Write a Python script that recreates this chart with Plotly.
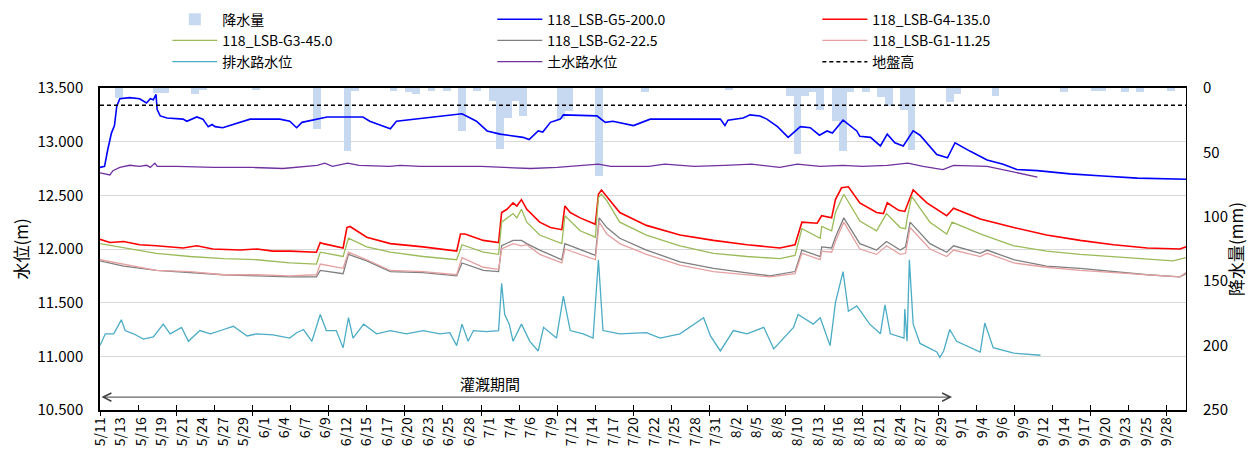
import plotly.graph_objects as go

FONT = "Noto Sans CJK JP"

# ---- x axis: days since 5/11 ----
x_labels = ["5/11", "5/13", "5/16", "5/19", "5/21", "5/24", "5/27", "5/29",
            "6/1", "6/4", "6/7", "6/9", "6/12", "6/15", "6/17", "6/20", "6/23", "6/25", "6/28",
            "7/1", "7/4", "7/6", "7/9", "7/12", "7/14", "7/17", "7/20", "7/22", "7/25", "7/28", "7/31",
            "8/2", "8/5", "8/8", "8/10", "8/13", "8/16", "8/18", "8/21", "8/24", "8/27", "8/29",
            "9/1", "9/4", "9/6", "9/9", "9/12", "9/14", "9/17", "9/20", "9/23", "9/25", "9/28"]
x_label_span = 140          # 5/11 -> 9/28 in days
x_max = 142.5

# ---- rainfall (mm/day) ----
rain_day = [2, 7, 8, 12, 13, 20, 28, 32, 33, 38, 40, 41, 43, 45, 47, 49, 51, 52, 53, 54,
            55, 60, 61, 65, 71, 82, 90, 91, 92, 93, 94, 96, 97, 98, 100, 102, 103, 105, 106, 111,
            112, 117, 126, 130, 131, 134, 136, 140]
rain_mm = [8, 4, 4, 5, 1, 1, 32, 49, 2, 2, 3, 5, 2, 2, 33, 2, 10, 47, 23, 10,
           22, 24, 18, 68, 3, 1, 6, 51, 6, 3, 17, 26, 49, 3, 3, 7, 14, 17, 48, 11,
           5, 6, 3, 2, 2, 3, 3, 2]

# ---- 118_LSB-G5-200.0 ----
g5_day = [0, 0.6, 1.0, 1.5, 1.9, 2.2, 2.6, 3.9, 5.2, 6.1, 6.6, 7.0, 7.35, 7.5, 7.9, 8.8, 10.9, 11.4, 12.7, 13.5,
          14.2, 14.7, 15.1, 16.1, 19.7, 23.6, 24.9, 25.8, 26.5, 28.0, 29.8, 32.4, 34.5, 35.4, 38.1, 38.9,
          43.7, 46.3, 47.5, 49.4, 50.8, 52.5, 55.5, 56.3, 57.5, 58.1, 59.1, 60.4, 60.8, 65.2, 66.3,
          67.3, 70.0, 72.2, 76.1, 81.4, 82.0, 82.4, 84.4, 85.3, 86.6, 87.5, 88.9, 90.3, 91.9, 93.2,
          94.4, 95.4, 96.1, 97.5, 99.3, 99.7, 101.1, 102.4, 103.3, 104.3, 105.4, 106.7, 107.6, 109.8,
          111.2, 112.2, 114.2, 116.4, 118.5, 120.3, 123.0, 127.3, 131.6, 136.1, 142.5]
g5_val = [12.76, 12.77, 12.92, 13.08, 13.15, 13.33, 13.40, 13.41, 13.40, 13.36, 13.40, 13.39, 13.44, 13.30,
          13.24, 13.22, 13.21, 13.19, 13.23, 13.21, 13.14, 13.16, 13.14, 13.13, 13.21, 13.21, 13.19,
          13.13, 13.18, 13.20, 13.23, 13.23, 13.23, 13.19, 13.12, 13.19, 13.23, 13.25, 13.26, 13.19,
          13.10, 13.07, 13.04, 13.02, 13.10, 13.09, 13.18, 13.21, 13.25, 13.24, 13.18, 13.19, 13.15,
          13.21, 13.21, 13.21, 13.15, 13.20, 13.22, 13.25, 13.24, 13.21, 13.14, 13.04, 13.14, 13.13,
          13.06, 13.10, 13.08, 13.20, 13.10, 13.05, 13.04, 12.96, 13.07, 12.99, 12.96, 13.10, 13.06,
          12.88, 12.85, 12.99, 12.91, 12.83, 12.79, 12.74, 12.73, 12.70, 12.68, 12.66, 12.65]

# ---- 118_LSB-G4-135.0 ----
g4_day = [0, 1.3, 3.1, 5.2, 7.4, 10.9, 12.7, 14.8, 18.4, 20.6, 22.7, 24.9, 28.4, 28.9, 29.3, 31.9, 32.4,
          32.8, 35.0, 38.1, 42.4, 46.8, 47.3, 47.9, 50.3, 52.3, 52.7, 53.4, 54.2, 54.7, 55.3, 56.0, 57.7,
          59.1, 60.6, 61.0, 61.7, 63.0, 65.0, 65.4, 65.8, 66.5, 68.2, 71.7, 76.1, 80.5, 84.9, 89.2, 91.2,
          92.1, 94.1, 94.7, 96.0, 96.5, 97.3, 98.2, 99.7, 101.9, 102.8, 103.3, 104.8, 105.6, 105.9, 106.7,
          108.5, 111.1, 112.0, 115.5, 119.9, 124.2, 128.6, 133.0, 137.4, 141.7, 142.5]
g4_val = [12.09, 12.06, 12.07, 12.04, 12.03, 12.01, 12.03, 12.00, 11.99, 12.00, 11.98, 11.98, 11.97, 12.06,
          12.05, 12.01, 12.20, 12.21, 12.11, 12.05, 12.02, 11.98, 12.14, 12.14, 12.08, 12.06, 12.34, 12.37,
          12.43, 12.40, 12.46, 12.37, 12.25, 12.20, 12.18, 12.40, 12.34, 12.29, 12.23, 12.51, 12.55, 12.49,
          12.34, 12.22, 12.13, 12.08, 12.04, 12.01, 12.04, 12.25, 12.24, 12.31, 12.29, 12.46, 12.57, 12.58,
          12.43, 12.34, 12.33, 12.43, 12.36, 12.35, 12.40, 12.55, 12.43, 12.31, 12.38, 12.28, 12.20, 12.13,
          12.08, 12.04, 12.01, 12.00, 12.02]

# ---- 118_LSB-G3-45.0 ----
g3_day = [0, 3.1, 7.4, 11.8, 16.2, 20.6, 24.9, 28.4, 28.9, 31.9, 32.6, 35.0, 38.1, 42.4, 46.8, 47.5, 50.3,
          52.3, 52.7, 54.2, 54.7, 55.3, 56.0, 57.7, 60.6, 61.0, 63.0, 65.0, 65.4, 65.8, 66.5, 68.2, 71.7,
          76.1, 80.5, 84.9, 89.2, 91.2, 92.1, 94.5, 94.7, 96.0, 96.5, 97.6, 99.7, 101.9, 103.2, 105.0,
          105.7, 105.9, 106.5, 108.9, 111.1, 111.8, 115.5, 119.9, 124.2, 128.6, 133.0, 137.4, 140.8, 142.5]
g3_val = [12.05, 12.01, 11.96, 11.93, 11.91, 11.90, 11.87, 11.86, 11.97, 11.93, 12.10, 12.02, 11.97, 11.93,
          11.90, 12.04, 11.97, 11.95, 12.25, 12.33, 12.29, 12.37, 12.25, 12.13, 12.05, 12.31, 12.17, 12.11,
          12.48, 12.51, 12.45, 12.25, 12.13, 12.03, 11.96, 11.93, 11.91, 11.94, 12.19, 12.10, 12.21, 12.17,
          12.34, 12.51, 12.26, 12.17, 12.33, 12.20, 12.19, 12.28, 12.49, 12.25, 12.14, 12.25, 12.14, 12.03,
          11.98, 11.95, 11.93, 11.91, 11.89, 11.92]

# ---- 118_LSB-G2-22.5 / 118_LSB-G1-11.25 (same sampling days) ----
g2_day = [0, 3.1, 7.4, 11.8, 16.2, 20.6, 24.9, 28.4, 28.9, 31.9, 32.6, 35.0, 38.1, 42.4, 46.8, 47.5, 50.3,
          52.3, 52.7, 54.2, 55.3, 56.0, 57.7, 60.6, 61.0, 65.0, 65.5, 66.5, 68.2, 71.7, 76.1, 80.5, 84.9,
          87.9, 91.2, 92.1, 94.5, 94.7, 96.0, 96.5, 97.6, 99.7, 101.9, 103.2, 105.0, 105.7, 106.3, 108.9,
          111.1, 112.0, 115.5, 116.4, 119.9, 124.2, 128.6, 133.0, 137.4, 141.7, 142.5]
g2_val = [11.89, 11.84, 11.80, 11.78, 11.76, 11.75, 11.74, 11.74, 11.80, 11.77, 11.95, 11.89, 11.79, 11.78,
          11.75, 11.87, 11.80, 11.79, 12.03, 12.08, 12.08, 12.05, 11.99, 11.90, 12.05, 11.94, 12.29, 12.20,
          12.10, 11.99, 11.88, 11.82, 11.78, 11.75, 11.79, 11.99, 11.93, 12.02, 12.01, 12.11, 12.29, 12.05,
          11.99, 12.07, 11.99, 12.02, 12.25, 12.05, 11.97, 12.03, 11.96, 11.99, 11.90, 11.84, 11.82, 11.79,
          11.76, 11.74, 11.77]
g1_day = g2_day
g1_val = [11.90, 11.86, 11.80, 11.79, 11.76, 11.76, 11.75, 11.76, 11.86, 11.82, 11.97, 11.90, 11.80, 11.79,
          11.76, 11.92, 11.83, 11.81, 12.00, 12.05, 12.03, 12.04, 11.95, 11.87, 12.00, 11.90, 12.25, 12.14,
          12.05, 11.95, 11.85, 11.79, 11.76, 11.74, 11.77, 11.96, 11.90, 11.98, 11.97, 12.07, 12.25, 12.00,
          11.95, 12.03, 11.95, 11.96, 12.20, 12.00, 11.93, 11.99, 11.93, 11.96, 11.87, 11.83, 11.80, 11.78,
          11.76, 11.74, 11.78]

# ---- 排水路水位 ----
drain_day = [0, 0.7, 1.8, 2.8, 3.3, 4.4, 5.7, 7.0, 8.3, 9.2, 10.7, 11.6, 13.1, 14.5, 16.2, 17.5, 19.3, 20.6,
             22.7, 24.9, 25.8, 26.7, 27.8, 28.9, 29.7, 31.0, 31.9, 32.6, 33.2, 34.6, 36.3, 38.1, 40.2, 42.4,
             44.6, 45.9, 46.8, 47.5, 48.3, 49.0, 50.7, 52.3, 52.7, 53.1, 53.7, 54.2, 55.3, 56.4, 57.5, 58.2,
             59.9, 60.8, 61.7, 63.4, 64.7, 65.4, 66.0, 68.2, 71.7, 73.5, 76.1, 79.2, 80.1, 81.4, 83.1, 84.9,
             87.1, 88.4, 91.0, 91.6, 93.6, 94.5, 95.8, 96.5, 97.5, 98.2, 99.3, 101.0, 102.4, 103.0, 103.7,
             105.5, 105.6, 105.9, 106.2, 106.7, 107.6, 109.8, 110.2, 110.7, 111.5, 112.4, 115.5, 116.1, 117.2,
             119.9, 123.4]
drain_val = [11.10, 11.21, 11.21, 11.34, 11.24, 11.21, 11.16, 11.18, 11.30, 11.21, 11.27, 11.14, 11.24, 11.21,
             11.25, 11.28, 11.19, 11.21, 11.20, 11.17, 11.22, 11.25, 11.14, 11.39, 11.24, 11.24, 11.08, 11.36,
             11.17, 11.30, 11.21, 11.24, 11.21, 11.24, 11.21, 11.22, 11.10, 11.30, 11.14, 11.24, 11.23, 11.24,
             11.68, 11.39, 11.30, 11.14, 11.30, 11.14, 11.05, 11.27, 11.17, 11.56, 11.24, 11.21, 11.17, 11.90,
             11.24, 11.21, 11.22, 11.17, 11.21, 11.36, 11.19, 11.05, 11.24, 11.21, 11.27, 11.07, 11.27, 11.39,
             11.30, 11.36, 11.10, 11.50, 11.79, 11.42, 11.47, 11.30, 11.21, 11.48, 11.21, 11.17, 11.44, 11.14,
             11.90, 11.30, 11.12, 11.04, 10.99, 11.05, 11.25, 11.14, 11.04, 11.31, 11.08, 11.03, 11.01]

# ---- 土水路水位 ----
ditch_day = [0, 1.3, 1.7, 2.6, 3.9, 5.2, 6.1, 6.6, 7.2, 7.5, 8.0, 10, 15, 20, 24, 27, 28.5, 29.5, 30.5, 32.5,
             34, 38, 39.4, 42, 46, 50, 53, 56.5, 60, 65.4, 67, 72, 74.1, 78, 82, 85.5, 89.2, 91.5, 94.5, 97.5,
             100, 103.3, 106.0, 108, 110.6, 112, 116.4, 118.5, 120.3, 123.0]
ditch_val = [12.71, 12.69, 12.73, 12.76, 12.78, 12.77, 12.78, 12.76, 12.80, 12.77, 12.77, 12.77, 12.76, 12.76,
             12.75, 12.77, 12.78, 12.80, 12.77, 12.80, 12.78, 12.77, 12.78, 12.77, 12.77, 12.77, 12.76, 12.75,
             12.76, 12.79, 12.77, 12.77, 12.79, 12.77, 12.78, 12.79, 12.76, 12.79, 12.77, 12.78, 12.77, 12.78,
             12.80, 12.77, 12.74, 12.78, 12.77, 12.74, 12.71, 12.67]

# ---- 地盤高 ----
ground_level = 13.34

# ---- 灌漑期間 (days) ----
irrigation_start = 0
irrigation_end = 111.8

fig = go.Figure()

fig.add_trace(go.Bar(
    x=[d + 0.5 for d in rain_day], y=rain_mm, width=1, name="降水量",
    marker=dict(color="#c6d9f1", line=dict(width=0)),
    xaxis="x", yaxis="y", hoverinfo="skip"))

line_series = [
    ("118_LSB-G5-200.0", g5_day, g5_val, "#0000ff", 1.6),
    ("118_LSB-G4-135.0", g4_day, g4_val, "#ff0000", 1.6),
    ("118_LSB-G3-45.0", g3_day, g3_val, "#9bbb59", 1.3),
    ("118_LSB-G2-22.5", g2_day, g2_val, "#7f7f7f", 1.3),
    ("118_LSB-G1-11.25", g1_day, g1_val, "#e6a0a0", 1.3),
    ("排水路水位", drain_day, drain_val, "#4bacc6", 1.3),
    ("土水路水位", ditch_day, ditch_val, "#7030a0", 1.3),
]
for name, xs, ys, col, w in line_series:
    fig.add_trace(go.Scatter(x=xs, y=ys, mode="lines", name=name,
                             line=dict(color=col, width=w),
                             xaxis="x", yaxis="y2"))

fig.add_trace(go.Scatter(x=[0, x_max], y=[ground_level, ground_level], mode="lines", name="地盤高",
                         line=dict(color="black", width=1.5, dash="4px,3px"),
                         xaxis="x", yaxis="y2"))

# helper (empty) traces so the tick-mark overlay axes are drawn
for ax in ("x3", "x4"):
    fig.add_trace(go.Scatter(x=[None], y=[None], xaxis=ax, yaxis="y2",
                             showlegend=False, hoverinfo="skip"))

tickvals = [i * x_label_span / (len(x_labels) - 1) for i in range(len(x_labels))]

# the page body has an 8px margin, so the figure is sized to fit the 1256x468 window
fig.update_layout(
    width=1240, height=452, autosize=False,
    margin=dict(l=92, r=62, t=80, b=50, autoexpand=False),
    paper_bgcolor="white", plot_bgcolor="white",
    font=dict(family=FONT, size=14, color="black"),
    bargap=0,
    legend=dict(orientation="h", xref="paper", yref="paper",
                x=0.062, y=1.262, xanchor="left", yanchor="top",
                entrywidth=265, entrywidthmode="pixels", itemwidth=45,
                font=dict(family=FONT, size=14), tracegroupgap=0,
                bgcolor="rgba(0,0,0,0)"),
    xaxis=dict(range=[0, x_max], tickmode="array", tickvals=tickvals, ticktext=x_labels,
               tickangle=-90, ticks="", showline=True, linecolor="black", linewidth=1.5,
               mirror=True, showgrid=False, zeroline=False, automargin=False,
               tickfont=dict(family=FONT, size=14), anchor="y"),
    yaxis=dict(range=[250, 0], side="right", tickmode="array", tickvals=[0, 50, 100, 150, 200, 250],
               showgrid=False, zeroline=False, showline=True, linecolor="black", linewidth=1,
               ticks="", tickfont=dict(family=FONT, size=15), anchor="x", automargin=False,
               ticklabelstandoff=13,
               title=dict(text="降水量(mm)", font=dict(family=FONT, size=17), standoff=17)),
    yaxis2=dict(range=[10.5, 13.5], side="left", overlaying="y", tickmode="array",
                tickvals=[10.5, 11.0, 11.5, 12.0, 12.5, 13.0, 13.5], tickformat=".3f",
                showgrid=True, gridcolor="#d9d9d9", gridwidth=1, zeroline=False,
                showline=True, linecolor="black", linewidth=1.5, ticks="",
                tickfont=dict(family=FONT, size=15), anchor="x", automargin=False,
                ticklabelstandoff=12,
                title=dict(text="水位(m)", font=dict(family=FONT, size=17), standoff=12)),
    xaxis3=dict(overlaying="x", range=[0, x_max], anchor="y2", side="bottom",
                tickmode="array", tickvals=list(range(0, 145, 5)), ticks="inside", ticklen=5,
                tickcolor="black", tickwidth=1, showticklabels=False, showline=False,
                showgrid=False, zeroline=False, automargin=False),
    xaxis4=dict(overlaying="x", range=[0, x_max], anchor="y2", side="bottom",
                tickmode="array", tickvals=list(range(0, 145, 10)), ticks="outside", ticklen=5,
                tickcolor="black", tickwidth=1, showticklabels=False, showline=False,
                showgrid=False, zeroline=False, automargin=False),
    annotations=[
        dict(x=irrigation_end, y=10.62, ax=irrigation_start, ay=10.62,
             xref="x", yref="y2", axref="x", ayref="y2", text="", showarrow=True,
             arrowside="end+start", arrowhead=5, arrowsize=1.6, arrowwidth=1,
             arrowcolor="#404040"),
        dict(x=51.2, y=10.75, xref="x", yref="y2", text="灌漑期間", showarrow=False,
             font=dict(family=FONT, size=15, color="black")),
    ],
)

fig.write_html("out.html")
